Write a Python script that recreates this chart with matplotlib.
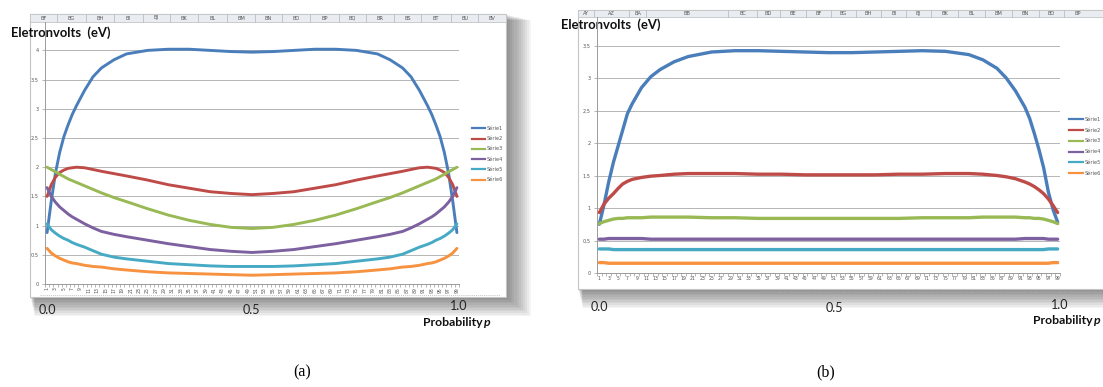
import matplotlib
matplotlib.use('Agg')
import matplotlib.pyplot as plt
from matplotlib.patches import Rectangle
from matplotlib.lines import Line2D

W, H = 1103, 387

# category numbers (Excel x axis 1..99) at which values were read
categories = [1, 2, 3, 4, 5, 6, 7, 8, 10, 12, 14, 17, 20, 25, 30, 35, 40, 45, 50,
              55, 60, 65, 70, 75, 80, 83, 86, 88, 90, 92, 93, 94, 95, 96, 97, 98, 99]

# panel (a)
a_serie1 = [0.88, 1.42, 1.90, 2.25, 2.52, 2.72, 2.90, 3.05, 3.32, 3.55, 3.70, 3.84, 3.94, 4.00, 4.02, 4.02, 4.00, 3.98, 3.97,
            3.98, 4.00, 4.02, 4.02, 4.00, 3.94, 3.84, 3.70, 3.55, 3.32, 3.05, 2.90, 2.72, 2.52, 2.25, 1.90, 1.42, 0.88]
a_serie2 = [1.50, 1.70, 1.83, 1.91, 1.95, 1.98, 1.99, 2.00, 1.99, 1.96, 1.93, 1.89, 1.85, 1.78, 1.70, 1.64, 1.58, 1.55, 1.53,
            1.55, 1.58, 1.64, 1.70, 1.78, 1.85, 1.89, 1.93, 1.96, 1.99, 2.00, 1.99, 1.98, 1.95, 1.91, 1.83, 1.70, 1.50]
a_serie3 = [2.00, 1.96, 1.92, 1.88, 1.84, 1.80, 1.77, 1.74, 1.68, 1.62, 1.56, 1.48, 1.41, 1.29, 1.18, 1.09, 1.02, 0.97, 0.95,
            0.97, 1.02, 1.09, 1.18, 1.29, 1.41, 1.48, 1.56, 1.62, 1.68, 1.74, 1.77, 1.80, 1.84, 1.88, 1.92, 1.96, 2.00]
a_serie4 = [1.65, 1.50, 1.40, 1.32, 1.26, 1.20, 1.15, 1.11, 1.03, 0.96, 0.90, 0.85, 0.81, 0.75, 0.69, 0.64, 0.59, 0.56, 0.54,
            0.56, 0.59, 0.64, 0.69, 0.75, 0.81, 0.85, 0.90, 0.96, 1.03, 1.11, 1.15, 1.20, 1.26, 1.32, 1.40, 1.50, 1.65]
a_serie5 = [1.03, 0.93, 0.87, 0.82, 0.78, 0.75, 0.71, 0.68, 0.63, 0.57, 0.51, 0.46, 0.43, 0.39, 0.35, 0.33, 0.31, 0.30, 0.30,
            0.30, 0.31, 0.33, 0.35, 0.39, 0.43, 0.46, 0.51, 0.57, 0.63, 0.68, 0.71, 0.75, 0.78, 0.82, 0.87, 0.93, 1.03]
a_serie6 = [0.61, 0.53, 0.48, 0.44, 0.41, 0.38, 0.36, 0.35, 0.32, 0.30, 0.29, 0.26, 0.24, 0.21, 0.19, 0.18, 0.17, 0.16, 0.15,
            0.16, 0.17, 0.18, 0.19, 0.21, 0.24, 0.26, 0.29, 0.30, 0.32, 0.35, 0.36, 0.38, 0.41, 0.44, 0.48, 0.53, 0.61]

# panel (b)
b_serie1 = [0.75, 1.05, 1.40, 1.70, 1.95, 2.20, 2.45, 2.60, 2.85, 3.02, 3.13, 3.25, 3.33, 3.40, 3.42, 3.42, 3.41, 3.40, 3.39,
            3.39, 3.40, 3.41, 3.42, 3.41, 3.36, 3.28, 3.15, 3.00, 2.80, 2.55, 2.38, 2.15, 1.90, 1.62, 1.25, 0.98, 0.78]
b_serie2 = [0.93, 1.06, 1.15, 1.22, 1.30, 1.37, 1.41, 1.44, 1.47, 1.49, 1.50, 1.52, 1.53, 1.53, 1.53, 1.52, 1.52, 1.51, 1.51,
            1.51, 1.51, 1.52, 1.52, 1.53, 1.53, 1.52, 1.50, 1.48, 1.45, 1.40, 1.37, 1.33, 1.28, 1.22, 1.14, 1.04, 0.93]
b_serie3 = [0.76, 0.79, 0.81, 0.83, 0.84, 0.84, 0.85, 0.85, 0.85, 0.86, 0.86, 0.86, 0.86, 0.85, 0.85, 0.84, 0.84, 0.84, 0.84,
            0.84, 0.84, 0.84, 0.85, 0.85, 0.85, 0.86, 0.86, 0.86, 0.86, 0.85, 0.85, 0.84, 0.84, 0.83, 0.81, 0.79, 0.76]
b_serie4 = [0.52, 0.52, 0.53, 0.53, 0.53, 0.53, 0.53, 0.53, 0.53, 0.52, 0.52, 0.52, 0.52, 0.52, 0.52, 0.52, 0.52, 0.52, 0.52,
            0.52, 0.52, 0.52, 0.52, 0.52, 0.52, 0.52, 0.52, 0.52, 0.52, 0.53, 0.53, 0.53, 0.53, 0.53, 0.52, 0.52, 0.52]
b_serie5 = [0.37, 0.37, 0.37, 0.36, 0.36, 0.36, 0.36, 0.36, 0.36, 0.36, 0.36, 0.36, 0.36, 0.36, 0.36, 0.36, 0.36, 0.36, 0.36,
            0.36, 0.36, 0.36, 0.36, 0.36, 0.36, 0.36, 0.36, 0.36, 0.36, 0.36, 0.36, 0.36, 0.36, 0.36, 0.37, 0.37, 0.37]
b_serie6 = [0.16, 0.16, 0.15, 0.15, 0.15, 0.15, 0.15, 0.15, 0.15, 0.15, 0.15, 0.15, 0.15, 0.15, 0.15, 0.15, 0.15, 0.15, 0.15,
            0.15, 0.15, 0.15, 0.15, 0.15, 0.15, 0.15, 0.15, 0.15, 0.15, 0.15, 0.15, 0.15, 0.15, 0.15, 0.15, 0.16, 0.16]

series_names = ['Série1', 'Série2', 'Série3', 'Série4', 'Série5', 'Série6']
colors = ['#4A7EBB', '#BE4B48', '#98B954', '#7D60A0', '#46AAC5', '#F69240']

a_yticks = [0, 0.5, 1, 1.5, 2, 2.5, 3, 3.5, 4]
a_ylabels = ['0', '0.5', '1', '1.5', '2', '2.5', '3', '3.5', '4']
b_yticks = [0, 0.5, 1, 1.5, 2, 2.5, 3, 3.5]
b_ylabels = ['0', '0,5', '1', '1,5', '2', '2,5', '3', '3,5']
x_ticklabels = list(range(1, 100, 2))

a_columns = ['BF', 'BG', 'BH', 'BI', 'BJ', 'BK', 'BL', 'BM', 'BN', 'BO', 'BP', 'BQ', 'BR', 'BS', 'BT', 'BU', 'BV']
b_columns = ['AY', 'AZ', 'BA', 'BB', 'BC', 'BD', 'BE', 'BF', 'BG', 'BH', 'BI', 'BJ', 'BK', 'BL', 'BM', 'BN', 'BO', 'BP']


def px_axes(fig, x0, x1, y0, y1, z=2):
    return fig.add_axes([x0 / W, 1 - y1 / H, (x1 - x0) / W, (y1 - y0) / H], zorder=z)


def sheet(bg, x0, x1, y0, y1, head_h, edges, names):
    # drop shadow
    for i in range(1, 13):
        bg.add_patch(Rectangle((x0 + i * 0.4, y0 + i * 0.5), x1 - x0 + i * 1.7, y1 - y0 + i * 1.1,
                               facecolor='black', alpha=0.045, lw=0, zorder=1))
    bg.add_patch(Rectangle((x0, y0), x1 - x0, y1 - y0, facecolor='white',
                           edgecolor='#c4c4c4', lw=0.8, zorder=2))
    bg.add_patch(Rectangle((x0, y0), x1 - x0, head_h, facecolor='#e9ecf1',
                           edgecolor='#c4c4c4', lw=0.6, zorder=3))
    for e in edges[1:-1]:
        bg.plot([e, e], [y0, y0 + head_h], color='#b9bdc4', lw=0.6, zorder=4)
    for k, name in enumerate(names):
        if k + 1 < len(edges):
            xc = (edges[k] + edges[k + 1]) / 2
            bg.text(xc, y0 + head_h / 2, name, fontsize=3.6, color='#555555',
                    ha='center', va='center', zorder=5)


def chart(ax, data, ylim, yticks, ylabels, lw, rotate):
    for vals, c in zip(data, colors):
        ax.plot(categories, vals, color=c, lw=lw, solid_capstyle='round', clip_on=False, zorder=3)
    ax.set_xlim(0.5, 99.5)
    ax.set_ylim(*ylim)
    ax.set_facecolor('none')
    ax.set_yticks(yticks)
    ax.set_yticklabels(ylabels, fontsize=3.6, color='#555555')
    ax.yaxis.grid(True, color='#b5b5b5', lw=0.7)
    ax.set_axisbelow(True)
    ax.set_xticks(x_ticklabels)
    ax.set_xticklabels([str(v) for v in x_ticklabels], fontsize=3.3, color='#555555',
                       rotation=90 if rotate else 0)
    ax.set_xticks([v + 0.5 for v in range(0, 100)], minor=True)
    ax.tick_params(axis='x', which='major', length=0, pad=2)
    ax.tick_params(axis='x', which='minor', length=2, color='#9a9a9a', width=0.5)
    ax.tick_params(axis='y', length=2.5, color='#9a9a9a', width=0.5, pad=2)
    for s in ('top', 'right'):
        ax.spines[s].set_visible(False)
    for s in ('left', 'bottom'):
        ax.spines[s].set_color('#9a9a9a')
        ax.spines[s].set_linewidth(0.7)


fig = plt.figure(figsize=(W / 100, H / 100), dpi=100)
bg = fig.add_axes([0, 0, 1, 1], zorder=0)
bg.set_xlim(0, W)
bg.set_ylim(H, 0)
bg.axis('off')

# ---- panel (a) ----
a_edges = [30, 57, 86, 114, 143, 170, 198, 227, 255, 282, 310, 339, 366, 394, 421, 451, 478, 506]
sheet(bg, 30, 506, 14, 297, 8, a_edges, a_columns)
bg.plot([40, 500], [295, 295], color='#b0b0b0', lw=0.5, ls=(0, (1.5, 1.5)), zorder=3)
ax_a = px_axes(fig, 45, 459, 22, 284)
chart(ax_a, [a_serie1, a_serie2, a_serie3, a_serie4, a_serie5, a_serie6],
      (0, (284 - 22) / 58.4), a_yticks, a_ylabels, 2.1, True)
handles = [Line2D([], [], color=c, lw=1.6) for c in colors]
ax_a.legend(handles, series_names, loc='upper left', bbox_to_anchor=(470 / W, 1 - 124 / H),
            bbox_transform=fig.transFigure, frameon=False, prop={'size': 3.6},
            handlelength=2.6, handletextpad=0.3, labelspacing=1.05, borderaxespad=0,
            labelcolor='#555555')

# ---- panel (b) ----
b_edges = [578, 594, 629, 646, 728, 757, 780, 806, 831, 856, 881, 906, 931, 958, 985, 1012, 1039, 1064, 1092]
sheet(bg, 578, 1112, 10, 289, 7, b_edges, b_columns)
bg.plot([760, 1103], [291, 291], color='#a0a0a0', lw=0.6, ls=(0, (4, 3)), zorder=3)
ax_b = px_axes(fig, 597, 1060, 17, 273)
chart(ax_b, [b_serie1, b_serie2, b_serie3, b_serie4, b_serie5, b_serie6],
      (0, (273 - 17) / 65.0), b_yticks, b_ylabels, 2.4, False)
ax_b.legend(handles, series_names, loc='upper left', bbox_to_anchor=(1067 / W, 1 - 115 / H),
            bbox_transform=fig.transFigure, frameon=False, prop={'size': 3.6},
            handlelength=2.8, handletextpad=0.3, labelspacing=1.15, borderaxespad=0,
            labelcolor='#555555')

# ---- overlaid captions ----
title_font = dict(family='Lato', weight='bold', fontsize=9.4, color='#111111')
bg.text(11, 33, 'Eletronvolts  (eV)', ha='left', va='center', zorder=10, **title_font)
bg.text(561, 25, 'Eletronvolts  (eV)', ha='left', va='center', zorder=10, **title_font)

num_font = dict(family='Lato', fontsize=9, color='#222222', ha='center', va='center', zorder=10)
bg.text(47, 310, '0.0', **num_font)
bg.text(251, 310, '0.5', **num_font)
bg.text(459, 306, '1.0', **num_font)
bg.text(599, 307, '0.0', **num_font)
bg.text(834, 308, '0.5', **num_font)
bg.text(1060, 305, '1.0', **num_font)

for xr, yv in ((491, 322), (1101, 321)):
    bg.text(xr, yv, 'p', family='Lato', weight='bold', style='italic', fontsize=8.8,
            color='#111111', ha='right', va='center', zorder=10)
    bg.text(xr - 8, yv, 'Probability', family='Lato', weight='bold', fontsize=8.8,
            color='#111111', ha='right', va='center', zorder=10)

bg.text(302, 372, '(a)', family='Liberation Serif', fontsize=11.5, color='black',
        ha='center', va='center')
bg.text(826, 372, '(b)', family='Liberation Serif', fontsize=11.5, color='black',
        ha='center', va='center')

fig.savefig('out.png', dpi=100, facecolor='white')
